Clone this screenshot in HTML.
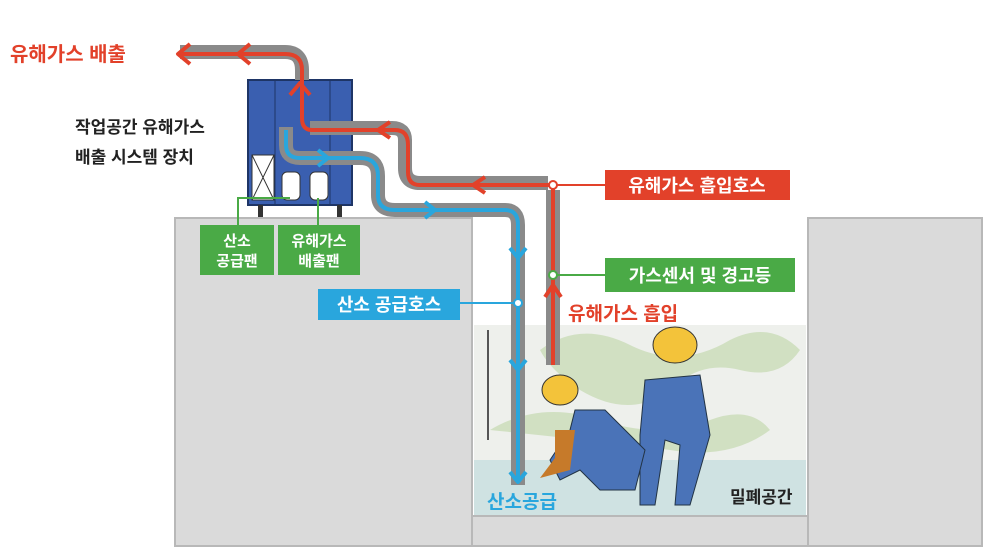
<!DOCTYPE html>
<html><head><meta charset="utf-8"><style>
body{margin:0;background:#fff;}
svg{display:block;font-family:"Liberation Sans","Noto Sans CJK KR",sans-serif;}
</style></head><body>
<svg width="983" height="549" viewBox="0 0 983 549" xmlns="http://www.w3.org/2000/svg">
<!-- ground blocks -->
<rect x="175" y="218" width="297" height="328" fill="#dadada" stroke="#b8b8b8" stroke-width="2"/>
<rect x="808" y="218" width="174" height="328" fill="#dadada" stroke="#b8b8b8" stroke-width="2"/>
<rect x="472" y="516" width="336" height="30" fill="#dadada" stroke="#b8b8b8" stroke-width="2"/>
<!-- pit scene -->
<rect x="474" y="325" width="332" height="190" fill="#eef0ec"/>
<rect x="474" y="460" width="332" height="55" fill="#cfe2e2"/>
<path d="M540 350 q40 -30 90 -5 q50 25 100 -5 q40 -20 70 10 q-20 30 -60 20 q-40 -10 -70 20 q-40 30 -90 0 q-30 -20 -40 -40z" fill="#c9dcb8" opacity="0.8"/>
<path d="M490 430 q50 -30 110 -10 q60 20 110 0 q40 -15 60 10 q-40 30 -100 20 q-80 -10 -180 -20z" fill="#c9dcb8" opacity="0.8"/>
<line x1="488" y1="330" x2="488" y2="440" stroke="#555" stroke-width="2"/>
<!-- workers -->
<ellipse cx="675" cy="345" rx="22" ry="18" fill="#f3c33a" stroke="#333"/>
<path d="M645 380 l55 -5 l10 60 l-20 70 l-15 0 l5 -60 l-15 -5 l-10 65 l-15 0 l0 -70z" fill="#4a73b8" stroke="#234"/>
<ellipse cx="560" cy="390" rx="18" ry="15" fill="#f3c33a" stroke="#333"/>
<path d="M575 410 l30 0 l40 40 l-10 40 l-35 0 l-20 -20 l-20 10 l-10 -20 l20 -30z" fill="#4a73b8" stroke="#234"/>
<path d="M555 430 l20 0 l-5 40 l-30 8 l15 -20z" fill="#c67a2a"/>
<!-- device -->
<rect x="248" y="80" width="104" height="125" fill="#3a5fb0" stroke="#1e3566" stroke-width="2"/>
<line x1="275" y1="80" x2="275" y2="205" stroke="#1e3566"/>
<line x1="330" y1="80" x2="330" y2="205" stroke="#1e3566"/>
<rect x="252" y="155" width="22" height="45" fill="#fff" stroke="#333"/>
<path d="M252 155 l22 45 M274 155 l-22 45" stroke="#333"/>
<rect x="282" y="172" width="18" height="28" rx="5" fill="#fff" stroke="#333"/>
<rect x="310" y="172" width="18" height="28" rx="5" fill="#fff" stroke="#333"/>
<rect x="258" y="205" width="5" height="12" fill="#333"/><rect x="337" y="205" width="5" height="12" fill="#333"/>
<!-- pipes -->
<g fill="none" stroke="#8a8a8a" stroke-width="14" stroke-linejoin="round" stroke-linecap="butt">
<path d="M180 52 H285 Q302 52 302 70 V80"/>
<path d="M553 190 V365"/>
<path d="M548 183 H420 Q405 183 405 168 V140 Q405 128 392 128 H310"/>
<path d="M286 127 V145 Q286 158 300 158 H360 Q378 158 378 176 V195 Q378 210 395 210 H505 Q518 210 518 225 V485"/>
</g>
<g fill="none" stroke="#e2412a" stroke-width="4" stroke-linejoin="round">
<path d="M553 365 V185 H420 Q408 185 408 172 V145 Q408 130 395 130 H312 Q302 130 302 118 V70 Q302 54 285 54 H178"/>
<path d="M190 44 l-12 10 l12 10 M250 44 l-12 10 l12 10 M290 95 l10 -12 l10 12 M390 122 l-12 8 l12 8 M485 177 l-12 8 l12 8 M545 297 l8 -12 l8 12"/>
</g>
<g fill="none" stroke="#29a6dd" stroke-width="4" stroke-linejoin="round">
<path d="M286 130 V145 Q286 158 300 158 H360 Q378 158 378 176 V195 Q378 210 395 210 H505 Q518 210 518 225 V482"/>
<path d="M318 150 l10 8 l-10 8 M425 202 l10 8 l-10 8 M510 248 l8 10 l8 -10 M510 360 l8 10 l8 -10 M510 472 l8 10 l8 -10"/>
</g>
<!-- callout lines -->
<g stroke="#e2412a" stroke-width="2"><line x1="553" y1="185" x2="605" y2="185"/></g>
<g stroke="#4aaa46" stroke-width="2" fill="none"><line x1="553" y1="275" x2="605" y2="275"/><path d="M290 198 H238 V228"/><path d="M318 198 V228"/></g>
<g stroke="#29a6dd" stroke-width="2"><line x1="460" y1="303" x2="518" y2="303"/></g>
<circle cx="553" cy="185" r="4" fill="#fff" stroke="#e2412a" stroke-width="2"/>
<circle cx="553" cy="275" r="4" fill="#fff" stroke="#4aaa46" stroke-width="2"/>
<circle cx="518" cy="303" r="4" fill="#fff" stroke="#29a6dd" stroke-width="2"/>
<!-- label boxes -->
<rect x="605" y="170" width="185" height="30" fill="#e2412a"/>
<text x="697" y="192" text-anchor="middle" fill="#fff" font-size="18" font-weight="bold">유해가스 흡입호스</text>
<rect x="605" y="258" width="190" height="34" fill="#4aaa46"/>
<text x="700" y="282" text-anchor="middle" fill="#fff" font-size="18" font-weight="bold">가스센서 및 경고등</text>
<rect x="318" y="289" width="142" height="31" fill="#29a6dd"/>
<text x="389" y="311" text-anchor="middle" fill="#fff" font-size="18" font-weight="bold">산소 공급호스</text>
<rect x="200" y="225" width="74" height="50" fill="#4aaa46"/>
<text x="237" y="246" text-anchor="middle" fill="#fff" font-size="15" font-weight="bold">산소</text>
<text x="237" y="266" text-anchor="middle" fill="#fff" font-size="15" font-weight="bold">공급팬</text>
<rect x="278" y="225" width="82" height="50" fill="#4aaa46"/>
<text x="319" y="246" text-anchor="middle" fill="#fff" font-size="15" font-weight="bold">유해가스</text>
<text x="319" y="266" text-anchor="middle" fill="#fff" font-size="15" font-weight="bold">배출팬</text>
<!-- free text -->
<text x="10" y="61" fill="#e2412a" font-size="20" font-weight="bold">유해가스 배출</text>
<text x="75" y="133" fill="#222" font-size="17" font-weight="bold">작업공간 유해가스</text>
<text x="75" y="163" fill="#222" font-size="17" font-weight="bold">배출 시스템 장치</text>
<text x="568" y="320" fill="#e2412a" font-size="19" font-weight="bold">유해가스 흡입</text>
<text x="487" y="508" fill="#29a6dd" font-size="19" font-weight="bold">산소공급</text>
<text x="730" y="503" fill="#222" font-size="17" font-weight="bold">밀폐공간</text>
</svg>
</body></html>
